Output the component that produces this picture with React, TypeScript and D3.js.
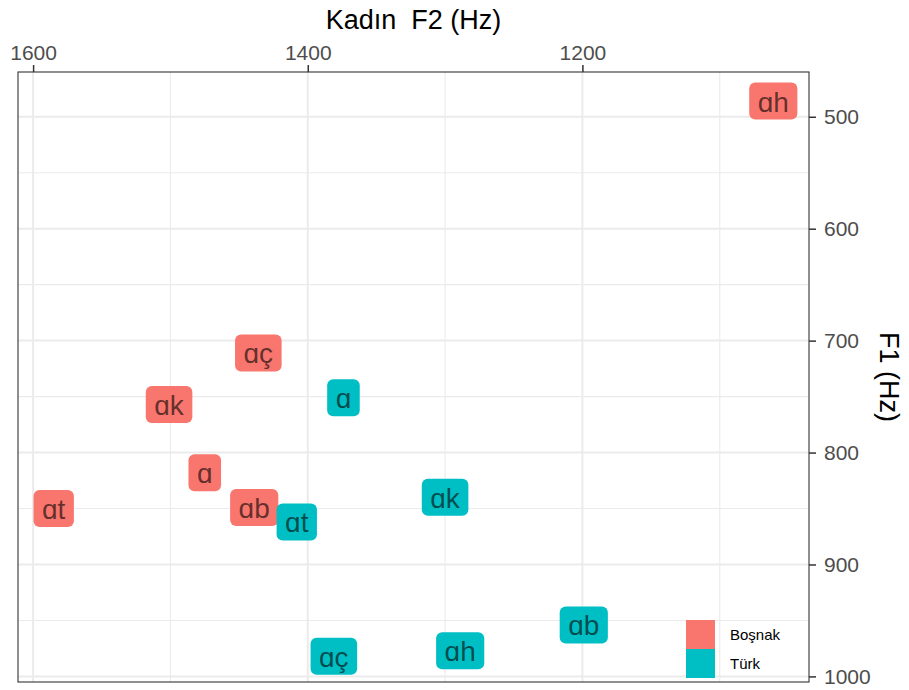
import React, { useEffect, useRef } from 'react';
import * as d3 from 'd3';

const groups = ['Boşnak', 'Türk'];
const groupColors = ['#F8766D', '#00BFC4'];

const bosnakLabels = ['ɑh', 'ɑç', 'ɑk', 'ɑ', 'ɑt', 'ɑb'];
const bosnakF2 = [1061, 1436, 1501, 1475, 1585, 1439];
const bosnakF1 = [486, 711, 757, 818, 850, 849];

const turkLabels = ['ɑ', 'ɑt', 'ɑk', 'ɑb', 'ɑh', 'ɑç'];
const turkF2 = [1374, 1408, 1300, 1199, 1289, 1381];
const turkF1 = [751, 862, 840, 954, 977, 982];

const xTicks = [1600, 1400, 1200];
const xMinor = [1500, 1300, 1100];
const yTicks = [500, 600, 700, 800, 900, 1000];
const yMinor = [550, 650, 750, 850, 950];

const W = 909;
const H = 690;

export default function App() {
  const svgRef = useRef<SVGSVGElement>(null);

  useEffect(() => {
    if (!svgRef.current) return;
    const svg = d3.select(svgRef.current);
    svg.selectAll('*').remove();

    const left = 18, right = 809, top = 72, bottom = 682;
    const font = 'Liberation Sans, Arial, Helvetica, sans-serif';

    const x = d3.scaleLinear().domain([1611, 1035]).range([left, right]);
    const y = d3.scaleLinear().domain([460, 1005]).range([top, bottom]);

    svg.append('rect').attr('width', W).attr('height', H).attr('fill', '#fff');

    const grid = svg.append('g');
    xMinor.forEach(v => grid.append('line')
      .attr('x1', x(v)).attr('x2', x(v)).attr('y1', top).attr('y2', bottom)
      .attr('stroke', '#EBEBEB').attr('stroke-width', 1.1));
    yMinor.forEach(v => grid.append('line')
      .attr('x1', left).attr('x2', right).attr('y1', y(v)).attr('y2', y(v))
      .attr('stroke', '#EBEBEB').attr('stroke-width', 1.1));
    xTicks.forEach(v => grid.append('line')
      .attr('x1', x(v)).attr('x2', x(v)).attr('y1', top).attr('y2', bottom)
      .attr('stroke', '#EBEBEB').attr('stroke-width', 2));
    yTicks.forEach(v => grid.append('line')
      .attr('x1', left).attr('x2', right).attr('y1', y(v)).attr('y2', y(v))
      .attr('stroke', '#EBEBEB').attr('stroke-width', 2));

    // labels
    const pts = [
      ...bosnakLabels.map((l, i) => ({ label: l, f2: bosnakF2[i], f1: bosnakF1[i], g: 0 })),
      ...turkLabels.map((l, i) => ({ label: l, f2: turkF2[i], f1: turkF1[i], g: 1 })),
    ];
    const lg = svg.append('g');
    pts.forEach(p => {
      const cx = x(p.f2), cy = y(p.f1);
      const g = lg.append('g');
      const rect = g.append('rect').attr('fill', groupColors[p.g]).attr('rx', 6).attr('ry', 6);
      const t = g.append('text')
        .attr('x', cx).attr('y', cy + 1)
        .attr('text-anchor', 'middle')
        .attr('dominant-baseline', 'central')
        .attr('font-family', font)
        .attr('font-size', 28)
        .attr('fill', '#000')
        .attr('fill-opacity', 0.6)
        .text(p.label);
      const tw = (t.node() as SVGTextElement).getComputedTextLength();
      const bw = tw + 17, bh = 37;
      rect.attr('x', cx - bw / 2).attr('y', cy - bh / 2).attr('width', bw).attr('height', bh);
    });

    // legend
    const legX = 686, legY = 620, key = 29;
    groups.forEach((gname, i) => {
      svg.append('rect')
        .attr('x', legX).attr('y', legY + i * key)
        .attr('width', key).attr('height', key)
        .attr('fill', groupColors[i]);
      svg.append('text')
        .attr('x', 730).attr('y', legY + i * key + key / 2)
        .attr('dominant-baseline', 'central')
        .attr('font-family', font).attr('font-size', 15)
        .attr('fill', '#000')
        .text(gname);
    });

    // panel border
    svg.append('rect')
      .attr('x', left).attr('y', top).attr('width', right - left).attr('height', bottom - top)
      .attr('fill', 'none').attr('stroke', '#333333').attr('stroke-width', 1.1);

    // top axis
    const xAxis = svg.append('g')
      .attr('transform', `translate(0,${top})`)
      .call(d3.axisTop(x).tickValues(xTicks).tickFormat(d3.format('d')).tickSize(7).tickPadding(5).tickSizeOuter(0));
    xAxis.select('.domain').remove();
    xAxis.selectAll('line').attr('stroke', '#333333').attr('stroke-width', 1.5);
    xAxis.selectAll('text').attr('fill', '#4D4D4D').attr('font-size', 21).attr('font-family', font);

    // right axis
    const yAxis = svg.append('g')
      .attr('transform', `translate(${right},0)`)
      .call(d3.axisRight(y).tickValues(yTicks).tickFormat(d3.format('d')).tickSize(7).tickPadding(8).tickSizeOuter(0));
    yAxis.select('.domain').remove();
    yAxis.selectAll('line').attr('stroke', '#333333').attr('stroke-width', 1.5);
    yAxis.selectAll('text').attr('fill', '#4D4D4D').attr('font-size', 21).attr('font-family', font);

    // titles
    svg.append('text')
      .attr('x', (left + right) / 2).attr('y', 29)
      .attr('text-anchor', 'middle')
      .attr('font-family', font).attr('font-size', 27)
      .attr('fill', '#000')
      .attr('xml:space', 'preserve')
      .style('white-space', 'pre')
      .text('Kadın  F2 (Hz)');

    svg.append('text')
      .attr('transform', `translate(880,${(top + bottom) / 2}) rotate(90)`)
      .attr('text-anchor', 'middle')
      .attr('font-family', font).attr('font-size', 27)
      .attr('fill', '#000')
      .text('F1 (Hz)');
  }, []);

  return (
    <div style={{ position: 'fixed', left: 0, top: 0 }}>
      <svg ref={svgRef} width={W} height={H} />
    </div>
  );
}
